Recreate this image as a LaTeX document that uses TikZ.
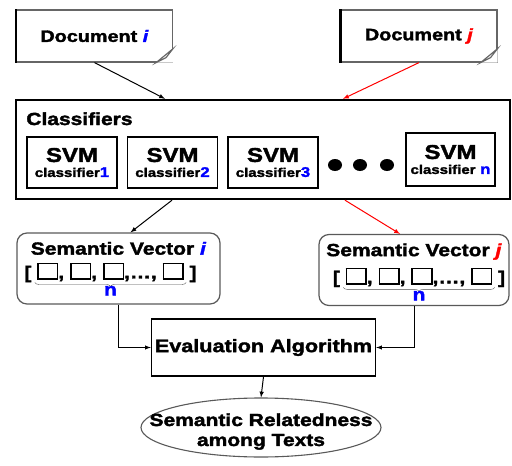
\documentclass[tikz,border=0pt]{standalone}
\usepackage{fontspec}
\setmainfont{Liberation Sans}[FakeStretch=1.2,
  BoldFeatures={FakeBold=2},BoldItalicFeatures={FakeBold=2}]
\usepackage{xcolor}
\usetikzlibrary{shapes.geometric,positioning,decorations.pathreplacing}

% empty slot of a vector
\newcommand{\slot}{{\fboxsep=0pt\fboxrule=1.6pt\fbox{\rule{0pt}{14pt}\hspace{18pt}}}}
\newcommand{\svmtext}[1]{{\fontsize{20}{20}\selectfont SVM}\\[3pt]{\fontsize{12.5}{13}\selectfont classifier\textcolor{blue}{\fontsize{14}{13}\selectfont #1}}}

\begin{document}
\begin{tikzpicture}[x=1pt,y=-1pt,font=\bfseries]
\tikzset{doc/.style={draw=black!60,line width=1.2pt,fill=white,minimum width=156pt,minimum height=52pt,font=\fontsize{16.5}{18}\bfseries},
svm/.style={draw,line width=1.8pt,minimum width=90pt,minimum height=51pt,align=center,inner sep=1pt},
vec/.style={draw=black!65,line width=1.2pt,rounded corners=10pt,minimum height=71pt},
dot/.style={ellipse,fill,minimum width=14pt,minimum height=12pt,inner sep=0pt},
big/.style={font=\fontsize{17.5}{20}\bfseries},
flow/.style={-latex,line width=1pt}}
\useasboundingbox (0,0) rectangle (512,466);

% the two input documents
\node[doc] (doci) at (94.5,36) {Document \textcolor{blue}{\textit{i}}};
\node[doc] (docj) at (419,36) {Document \textcolor{red}{\textit{j}}};
\foreach \d in {doci,docj}{
  \draw[line width=2.4pt] (\d.north west) -- (\d.south west);
  \fill[white] ([xshift=-17pt]\d.south east) -- (\d.south east) -- ([yshift=14pt]\d.south east) -- cycle;
  \draw[black!60,line width=1.1pt,fill=black!8] ([xshift=-17pt]\d.south east) -- ([yshift=14pt]\d.south east) -- ([xshift=-7pt,yshift=5pt]\d.south east) -- cycle;
}

% classifier bank
\node[draw,line width=2.4pt,minimum width=494pt,minimum height=99pt] (cls) at (263,149.5) {};
\node[anchor=north west,big] (clab) at ([xshift=8pt,yshift=-10pt]cls.north west) {Classifiers};
\node[svm] (svm1) at (72,162.5) {\svmtext{1}};
\node[svm] (svm2) at (172.5,162.5) {\svmtext{2}};
\node[svm] (svm3) at (273,162.5) {\svmtext{3}};
\node[svm,minimum width=89pt,minimum height=53pt] (svmn) at (450.5,159.5) {\svmtext{ n}};
\node[dot] (d1) at (335,165) {};
\node[dot] (d2) at (360,165) {};
\node[dot] (d3) at (387,165) {};

\draw[flow] (doci.south) -- ([xshift=-98pt]cls.north);
\draw[flow,red] (docj.south) -- ([xshift=80pt]cls.north);

% semantic vectors
\node[vec,minimum width=203pt] (svi) at (118.5,268.5) {};
\node[vec,minimum width=190pt] (svj) at (414,270) {};
\node[big,below=6pt of svi.north] (ti) {Semantic Vector \textcolor{blue}{\textit{i}}};
\node[big,below=6pt of svj.north] (tj) {Semantic Vector \textcolor{red}{\textit{j}}};
\node[big,below=1pt of ti,xshift=-8pt] (rowi) {[ \slot, \slot, \slot,\ldots, \slot\ ]};
\node[big,below=1pt of tj,xshift=5pt] (rowj) {[ \slot, \slot, \slot,\ldots, \slot\ ]};
\draw[black!70,decorate,decoration={brace,mirror,amplitude=4pt}]
  ([xshift=14pt,yshift=-4pt]rowi.base west) -- ([xshift=-14pt,yshift=-4pt]rowi.base east)
  node[midway,below=0pt,big,text=blue] (ni) {n};
\draw[black!70,decorate,decoration={brace,mirror,amplitude=4pt}]
  ([xshift=14pt,yshift=-4pt]rowj.base west) -- ([xshift=-14pt,yshift=-4pt]rowj.base east)
  node[midway,below=0pt,big,text=blue] (nj) {n};

\draw[flow] ([xshift=-91pt]cls.south) -- ([xshift=12pt]svi.north);
\draw[flow,red] ([xshift=82pt]cls.south) -- ([xshift=-14pt]svj.north);

% evaluation and result
\node[draw,line width=1.5pt,minimum width=223pt,minimum height=57pt,font=\fontsize{18}{20}\bfseries] (eval) at (263.5,347.5) {Evaluation Algorithm};
\node[ellipse,draw=black!65,line width=1.1pt,minimum width=240pt,minimum height=59pt,
  label={[big,align=center,yshift=-4pt]center:{Semantic Relatedness\\among Texts}}] (rel) at (261,427.5) {};

\draw[flow] (svi.south) |- (eval.west);
\draw[flow] (svj.south) |- (eval.east);
\draw[flow] (eval.south) -- (rel.north);
\end{tikzpicture}
\end{document}
